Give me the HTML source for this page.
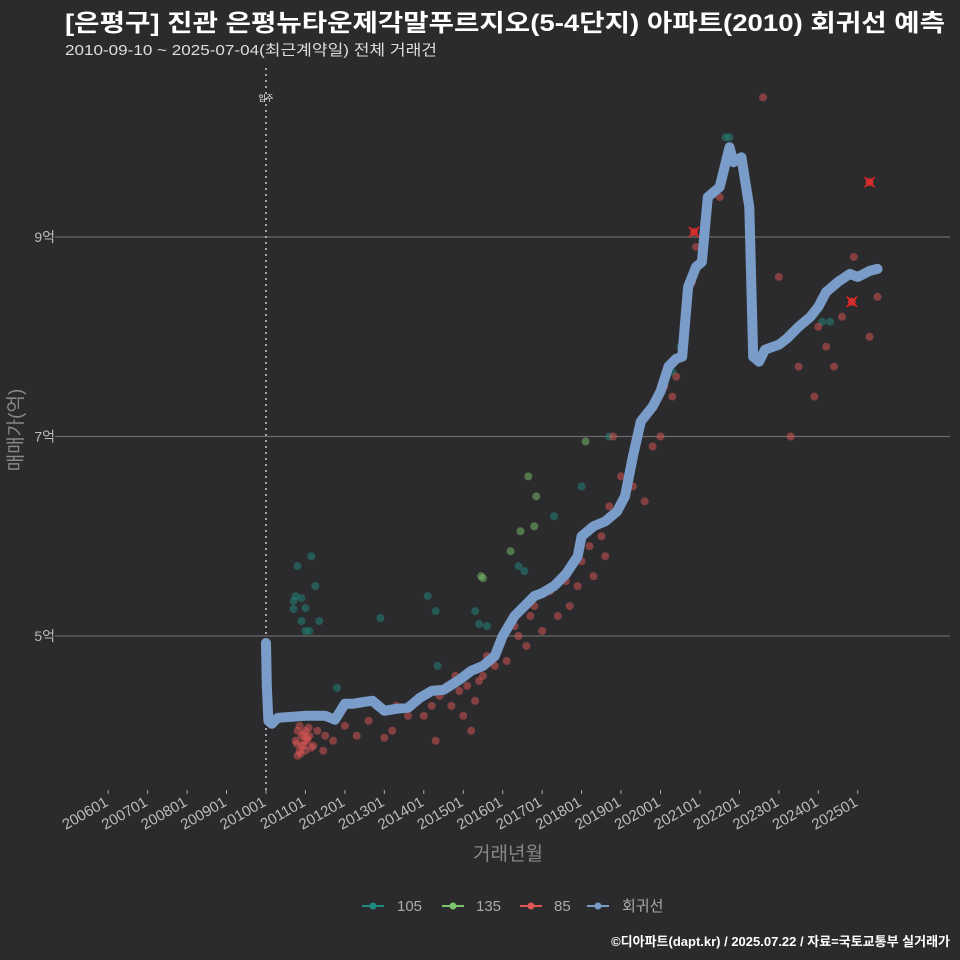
<!DOCTYPE html>
<html><head><meta charset="utf-8"><style>
body{margin:0;background:#2b2b2d;}
svg{display:block;font-family:"Liberation Sans","Noto Sans CJK KR",sans-serif;}
</style></head><body>
<svg id="c" width="960" height="960" viewBox="0 0 960 960">
<rect width="960" height="960" fill="#2b2b2d"/>
<text x="65" y="31" font-size="24" font-weight="bold" fill="#ffffff" textLength="880" lengthAdjust="spacingAndGlyphs">[은평구] 진관 은평뉴타운제각말푸르지오(5-4단지) 아파트(2010) 회귀선 예측</text>
<text x="65" y="55" font-size="15" fill="#dddddd" textLength="372" lengthAdjust="spacingAndGlyphs">2010-09-10 ~ 2025-07-04(최근계약일) 전체 거래건</text>
<g id="grid"></g><g id="pts"></g><g id="line"></g><g id="axes"></g>
<text transform="translate(22,430) rotate(-90)" text-anchor="middle" font-size="19" fill="#888">매매가(억)</text>
<text x="508" y="860" text-anchor="middle" font-size="19" fill="#888">거래년월</text>
<g font-size="15" fill="#aaa">
<g><line x1="362" y1="906" x2="384" y2="906" stroke="#1f8a80" stroke-width="2"/><circle cx="373" cy="906" r="3.5" fill="#1f8a80"/><text x="397" y="911">105</text></g>
<g><line x1="442" y1="906" x2="464" y2="906" stroke="#7cc46b" stroke-width="2"/><circle cx="453" cy="906" r="3.5" fill="#7cc46b"/><text x="476" y="911">135</text></g>
<g><line x1="520" y1="906" x2="542" y2="906" stroke="#e05555" stroke-width="2"/><circle cx="531" cy="906" r="3.5" fill="#e05555"/><text x="554" y="911">85</text></g>
<g><line x1="587" y1="906" x2="609" y2="906" stroke="#7a9cc8" stroke-width="2"/><circle cx="598" cy="906" r="3.5" fill="#7a9cc8"/><text x="622" y="911">회귀선</text></g>
</g>
<text x="950" y="946" text-anchor="end" font-size="13" font-weight="bold" fill="#ffffff">©디아파트(dapt.kr) / 2025.07.22 / 자료=국토교통부 실거래가</text>
</svg>
<script>
const yTicks=[5,7,9];
const yTickLabels=["5억","7억","9억"];
const xTicks=[2006,2007,2008,2009,2010,2011,2012,2013,2014,2015,2016,2017,2018,2019,2020,2021,2022,2023,2024,2025];
const xTickLabels=["200601","200701","200801","200901","201001","201101","201201","201301","201401","201501","201601","201701","201801","201901","202001","202101","202201","202301","202401","202501"];
const lineX=[2010.0,2010.02,2010.06,2010.15,2010.3,2011.0,2011.5,2011.75,2012.0,2012.2,2012.5,2012.7,2012.85,2013.0,2013.3,2013.6,2013.9,2014.2,2014.5,2014.9,2015.2,2015.5,2015.8,2016.0,2016.3,2016.6,2016.8,2017.0,2017.3,2017.6,2017.9,2018.0,2018.3,2018.6,2018.9,2019.1,2019.3,2019.5,2019.8,2020.0,2020.2,2020.4,2020.55,2020.7,2020.9,2021.05,2021.2,2021.5,2021.75,2021.85,2022.05,2022.25,2022.35,2022.5,2022.65,2023.0,2023.2,2023.5,2023.8,2024.0,2024.2,2024.5,2024.8,2025.0,2025.3,2025.5];
const lineY=[4.93,4.5,4.15,4.12,4.18,4.2,4.2,4.16,4.32,4.32,4.34,4.35,4.3,4.25,4.27,4.28,4.38,4.45,4.46,4.56,4.65,4.7,4.8,5.0,5.2,5.32,5.4,5.43,5.5,5.62,5.8,6.0,6.1,6.15,6.25,6.4,6.8,7.15,7.3,7.45,7.7,7.78,7.8,8.5,8.7,8.75,9.4,9.5,9.9,9.75,9.8,9.3,7.8,7.75,7.87,7.92,7.98,8.1,8.2,8.3,8.45,8.55,8.63,8.6,8.66,8.68];
const s105X=[2010.7,2010.7,2010.75,2010.8,2010.9,2010.9,2011.0,2011.0,2011.1,2011.15,2011.25,2011.35,2011.8,2012.9,2014.1,2014.3,2014.35,2015.3,2015.4,2015.6,2016.4,2016.55,2017.3,2018.0,2018.7,2020.3,2020.5,2021.1,2021.65,2021.75,2024.1,2024.3];
const s105Y=[5.27,5.35,5.4,5.7,5.38,5.15,5.28,5.05,5.05,5.8,5.5,5.15,4.48,5.18,5.4,5.25,4.7,5.25,5.12,5.1,5.7,5.65,6.2,6.5,7.0,7.65,7.9,9.15,10.0,10.0,8.15,8.15];
const s135X=[2015.45,2015.5,2016.2,2016.45,2016.65,2016.8,2016.85,2018.1];
const s135Y=[5.6,5.58,5.85,6.05,6.6,6.1,6.4,6.95];
const s85X=[2010.75,2010.8,2010.85,2010.9,2010.95,2011.0,2011.05,2011.1,2011.15,2010.8,2010.85,2010.9,2010.95,2011.0,2011.05,2010.78,2010.88,2010.98,2011.08,2011.2,2011.3,2011.45,2011.5,2011.7,2012.0,2012.3,2012.6,2012.8,2013.0,2013.2,2013.3,2013.6,2013.8,2014.0,2014.2,2014.3,2014.4,2014.6,2014.7,2014.8,2014.9,2015.0,2015.1,2015.2,2015.3,2015.4,2015.5,2015.6,2015.8,2015.9,2016.0,2016.1,2016.3,2016.4,2016.6,2016.7,2016.8,2017.0,2017.2,2017.4,2017.6,2017.7,2017.9,2018.0,2018.2,2018.3,2018.5,2018.6,2018.7,2018.8,2019.0,2019.3,2019.6,2019.8,2020.0,2020.1,2020.3,2020.4,2020.6,2020.8,2020.9,2021.1,2021.5,2021.7,2022.6,2023.0,2023.3,2023.5,2023.9,2024.0,2024.2,2024.4,2024.6,2024.9,2025.3,2025.5];
const s85Y=[3.95,4.05,3.85,4.0,3.9,4.05,3.95,4.0,3.88,3.8,4.1,3.9,4.02,3.85,3.98,3.92,3.82,3.95,4.08,3.9,4.05,3.85,4.0,3.95,4.1,4.0,4.15,4.3,3.98,4.05,4.3,4.2,4.35,4.2,4.3,3.95,4.4,4.5,4.3,4.6,4.45,4.2,4.5,4.05,4.35,4.55,4.6,4.8,4.7,4.9,5.0,4.75,5.1,5.0,4.9,5.2,5.3,5.05,5.45,5.2,5.55,5.3,5.5,5.75,5.9,5.6,6.0,5.8,6.3,7.0,6.6,6.5,6.35,6.9,7.0,7.5,7.4,7.6,8.0,8.55,8.9,9.0,9.4,9.8,10.4,8.6,7.0,7.7,7.4,8.1,7.9,7.7,8.2,8.8,8.0,8.4,8.7];
const xMarksX=[2020.85,2024.85,2025.3];
const xMarksY=[9.05,8.35,9.55];
const NS="http://www.w3.org/2000/svg";
const X=t=>266+(t-2010)*39.45;
const Y=v=>237+(9-v)*99.75;
function mk(tag,attrs,parent){const e=document.createElementNS(NS,tag);for(const k in attrs)e.setAttribute(k,attrs[k]);document.getElementById(parent).appendChild(e);return e;}
yTicks.forEach((v,i)=>{
  const l=mk('line',{x1:55,x2:950,y1:Y(v),y2:Y(v),stroke:'#6a6a6a','stroke-width':1.3},'grid');
  
  
  const t=mk('text',{x:55,y:Y(v)+5,'text-anchor':'end','font-size':14,fill:'#bbb'},'axes');t.textContent=yTickLabels[i];
  
  
});
const vl=mk('line',{x1:X(2010),x2:X(2010),y1:68,y2:790,stroke:'#ccc','stroke-width':1.5,'stroke-dasharray':'2,4'},'grid');


const vt=mk('text',{x:X(2010),y:101,'text-anchor':'middle','font-size':8,fill:'#fff'},'axes');vt.textContent='입주';


xTicks.forEach((t,i)=>{
  const tk=mk('line',{x1:X(t),x2:X(t),y1:790,y2:794,stroke:'#aaa'},'axes');
  
  
  const tx=mk('text',{transform:`translate(${X(t)+1},${805}) rotate(-30)`,'text-anchor':'end','font-size':15,fill:'#bbb'},'axes');tx.textContent=xTickLabels[i];
  
  
});
function scatter(xs,ys,col,name){xs.forEach((t,i)=>{
  const c=mk('circle',{cx:X(t),cy:Y(ys[i]),r:4,fill:col,'fill-opacity':0.5},'pts');
  
  
});}
scatter(s105X,s105Y,'#1f8a80','point-105');
scatter(s135X,s135Y,'#7cc46b','point-135');
scatter(s85X,s85Y,'#e05555','point-85');
xMarksX.forEach((t,i)=>{
  const g=mk('path',{d:`M${X(t)-5},${Y(xMarksY[i])-5}L${X(t)+5},${Y(xMarksY[i])+5}M${X(t)-5},${Y(xMarksY[i])+5}L${X(t)+5},${Y(xMarksY[i])-5}`,stroke:'#ff2020','stroke-width':1.5},'pts');
  
  
  const c=mk('circle',{cx:X(t),cy:Y(xMarksY[i]),r:4,fill:'#e03030','fill-opacity':0.8},'pts');
  
  
});
const d=lineX.map((t,i)=>(i?'L':'M')+X(t).toFixed(1)+','+Y(lineY[i]).toFixed(1)).join('');
const p=mk('path',{d:d,fill:'none',stroke:'#7a9cc8','stroke-width':10,'stroke-linejoin':'round','stroke-linecap':'round'},'line');


</script>
</body></html>
